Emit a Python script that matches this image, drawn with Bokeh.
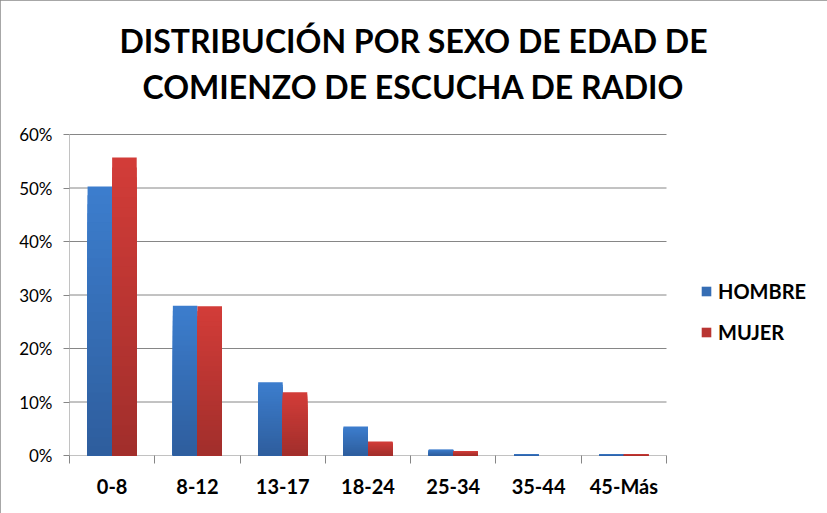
from bokeh.plotting import figure
from bokeh.models import (Range1d, FixedTicker, NumeralTickFormatter, Legend, LegendItem, Label)
from bokeh.embed import file_html
from bokeh.resources import INLINE

# ---- data ----
categories = ["0-8", "8-12", "13-17", "18-24", "25-34", "35-44", "45-Más"]
hombre = [0.503, 0.280, 0.137, 0.054, 0.011, 0.002, 0.002]
mujer = [0.557, 0.279, 0.118, 0.026, 0.008, 0.0, 0.002]
series_names = ["HOMBRE", "MUJER"]
title_lines = ["DISTRIBUCIÓN POR SEXO DE EDAD DE", "COMIENZO DE ESCUCHA DE RADIO"]
y_ticks = [0.0, 0.1, 0.2, 0.3, 0.4, 0.5, 0.6]

# ---- layout / styles ----
W, H = 827, 513
FL, FR, FT, FB = 69, 810, 10, 455          # frame edges in pixels
PLOT_R, PLOT_T = 666, 134                   # where the category area ends / 60% sits
ncat = len(categories)
y_max = y_ticks[-1]
x_end = ncat * (FR - FL) / (PLOT_R - FL)
y_end = y_max * (FB - FT) / (FB - PLOT_T)

colors_top = [(0x3C, 0x7D, 0xCD), (0xD2, 0x3C, 0x38)]
colors_bot = [(0x2E, 0x5D, 0x9C), (0xA0, 0x2E, 0x2B)]
BAR_W = 0.288
GRID = "#868686"

p = figure(width=W, height=H, output_backend="svg", toolbar_location=None,
           x_range=Range1d(0, x_end), y_range=Range1d(0, y_end),
           min_border_left=FL, min_border_right=W - FR, min_border_top=FT,
           min_border_bottom=H - FB)
p.outline_line_color = None
p.background_fill_color = "white"
p.border_fill_color = "white"
p.xgrid.grid_line_color = None
p.ygrid.grid_line_color = None

# gridlines and y axis line, limited to the category area
p.segment(x0=[0] * len(y_ticks), x1=[ncat] * len(y_ticks), y0=y_ticks, y1=y_ticks,
          line_color=GRID, line_width=1)
p.segment(x0=[0], x1=[0], y0=[0], y1=[y_max], line_color=GRID, line_width=1)

def mix(a, b, t):
    return "#%02x%02x%02x" % tuple(int(round(a[i] + (b[i] - a[i]) * t)) for i in range(3))

# bars with a vertical gradient (stacked layers, lighter at top)
N = 30
centers = [i + 0.5 for i in range(ncat)]
legend_renderers = []
for s, vals in enumerate([hombre, mujer]):
    xs = [c - BAR_W / 2 if s == 0 else c + BAR_W / 2 for c in centers]
    for k in range(N):
        f = 1 - k / N
        r = p.vbar(x=xs, width=BAR_W, bottom=0, top=[v * f for v in vals],
                   fill_color=mix(colors_bot[s], colors_top[s], f), line_color=None)
        if k == N // 2:
            legend_renderers.append(r)

items = [LegendItem(label=name, renderers=[legend_renderers[s]])
         for s, name in enumerate(series_names)]

legend = Legend(items=items, location=(631, 111), orientation="vertical",
                glyph_width=12, glyph_height=12, label_height=12, spacing=17,
                padding=0, margin=0, border_line_color=None, background_fill_alpha=0,
                label_text_font="Lato", label_text_font_style="bold",
                label_text_font_size="20px", label_text_color="black",
                label_standoff=6)
p.add_layout(legend, "center")

# axes
p.xaxis.ticker = FixedTicker(ticks=centers, minor_ticks=list(range(ncat + 1)))
p.xaxis.major_label_overrides = {c: categories[i] for i, c in enumerate(centers)}
p.xaxis.major_tick_line_color = None
p.xaxis.minor_tick_line_color = GRID
p.xaxis.minor_tick_out = 8
p.xaxis.minor_tick_in = 0
p.xaxis.axis_line_color = None
p.xaxis.major_label_text_font = "Lato"
p.xaxis.major_label_text_font_style = "bold"
p.xaxis.major_label_text_font_size = "20px"
p.xaxis.major_label_text_color = "black"
p.xaxis.major_label_standoff = 10

p.yaxis.ticker = FixedTicker(ticks=y_ticks, minor_ticks=[])
p.yaxis.formatter = NumeralTickFormatter(format="0%")
p.yaxis.axis_line_color = None
p.yaxis.major_tick_line_color = GRID
p.yaxis.major_tick_out = 6
p.yaxis.major_tick_in = 0
p.yaxis.major_label_text_font = "Lato"
p.yaxis.major_label_text_font_size = "17px"
p.yaxis.major_label_text_color = "black"
p.yaxis.major_label_standoff = 11

# title lines (screen units relative to the plot frame)
for i, t in enumerate(title_lines):
    p.add_layout(Label(x=413 - FL, y=415 - i * 46, x_units="screen", y_units="screen",
                       text=t, text_align="center", text_baseline="alphabetic",
                       text_font="Lato", text_font_style="bold", text_font_size="32px",
                       text_color="black"))

p.styles = {"outline": "2px solid #8a8a8a", "outline-offset": "-2px"}

open("out.html", "w").write(file_html(p, INLINE))
